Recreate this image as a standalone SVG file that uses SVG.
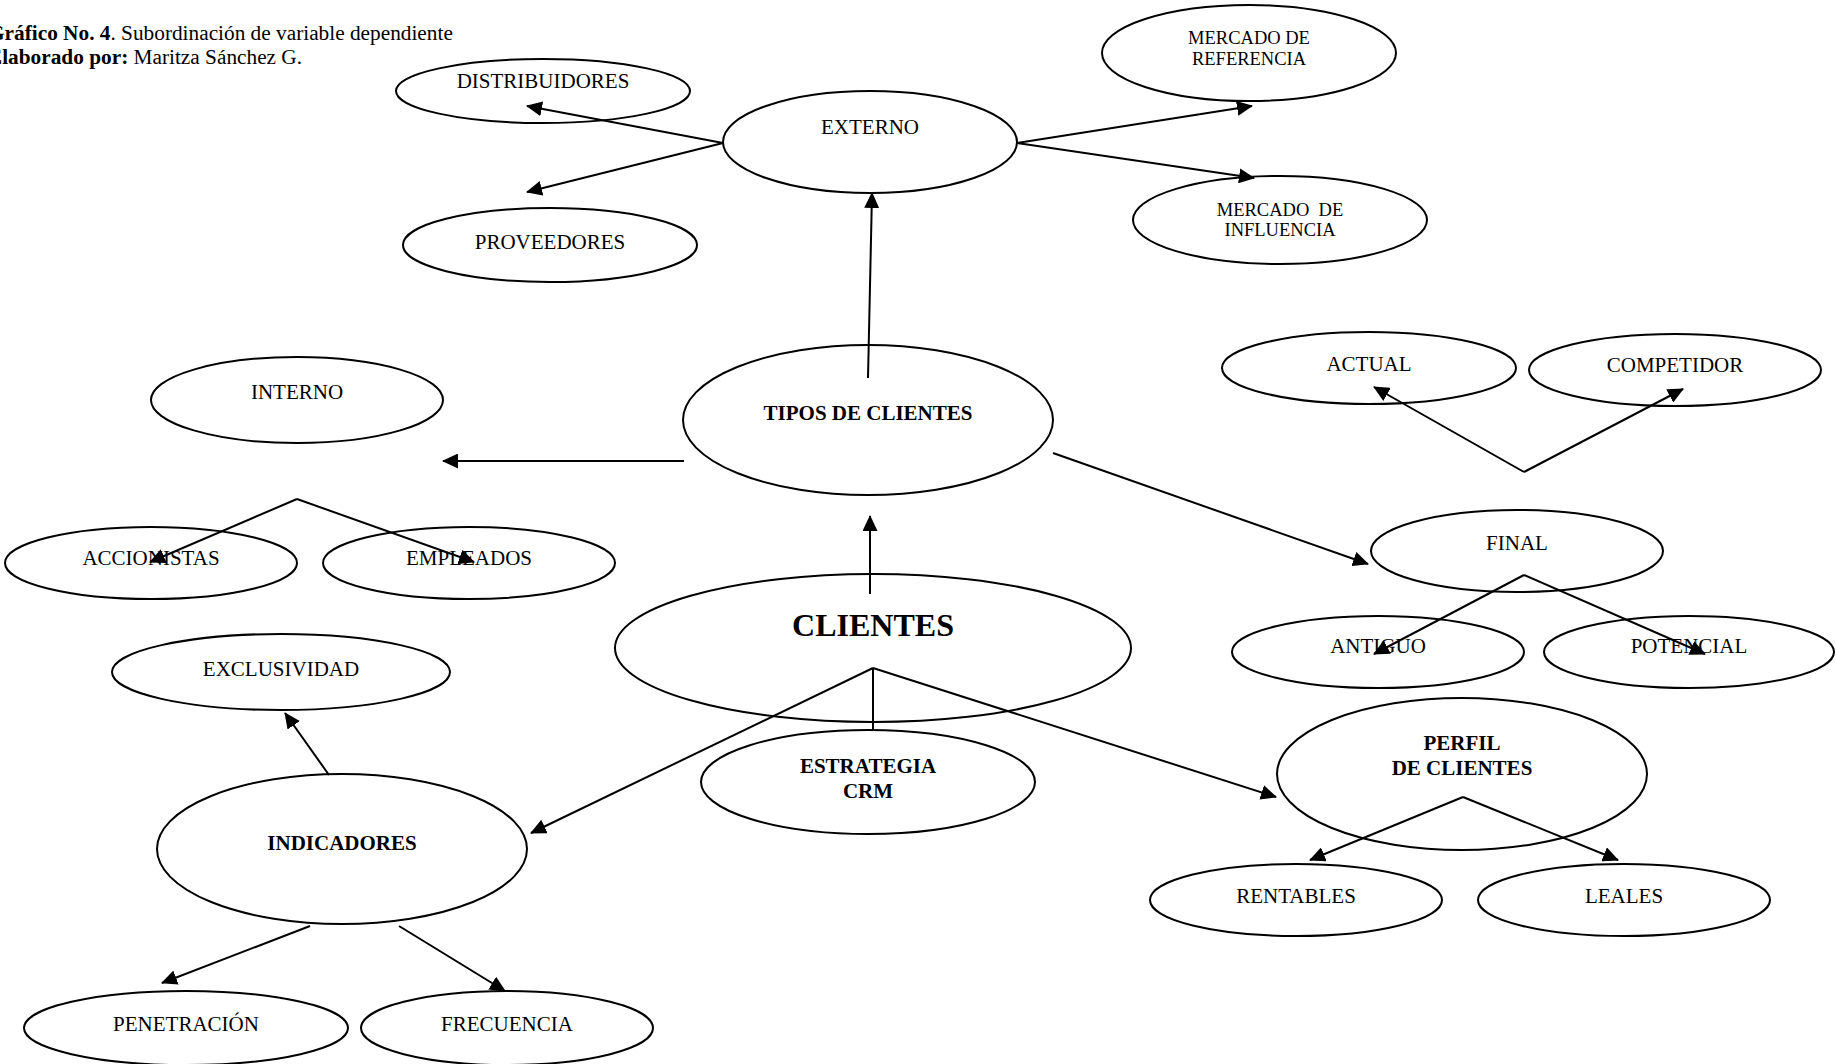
<svg xmlns="http://www.w3.org/2000/svg" width="1836" height="1064" viewBox="0 0 1836 1064">
<style>
.n ellipse{fill:none;stroke:#000;stroke-width:2}
text{font-family:"Liberation Serif","Times New Roman",serif;fill:#000;text-anchor:middle}
.t{font-size:21px}
.s{font-size:18.5px}
.b{font-size:21px;font-weight:bold}
.c line{stroke:#000;stroke-width:2;marker-end:url(#ah)}
.c line.plain{marker-end:none}
</style>
<defs>
<marker id="ah" viewBox="0 0 16 15" refX="15" refY="7.5" markerWidth="16" markerHeight="15" markerUnits="userSpaceOnUse" orient="auto">
<path d="M0,0 L16,7.5 L0,15 z" fill="#000"/>
</marker>
</defs>
<g id="title">
<text x="-12" y="40" style="font-size:21.3px;text-anchor:start"><tspan font-weight="bold">Gráfico No. 4</tspan>. Subordinación de variable dependiente</text>
<text x="-12" y="64" style="font-size:21.3px;text-anchor:start"><tspan font-weight="bold">Elaborado por:</tspan> Maritza Sánchez G.</text>
</g>
<g class="n" id="distribuidores"><ellipse cx="543" cy="91" rx="147" ry="32"/><text class="t" x="543" y="88">DISTRIBUIDORES</text></g>
<g class="n" id="externo"><ellipse cx="870" cy="142" rx="147" ry="51"/><text class="t" x="870" y="134">EXTERNO</text></g>
<g class="n" id="mercado-referencia"><ellipse cx="1249" cy="53" rx="147" ry="48"/><text class="s" x="1249" y="44">MERCADO DE</text><text class="s" x="1249" y="65">REFERENCIA</text></g>
<g class="n" id="mercado-influencia"><ellipse cx="1280" cy="220" rx="147" ry="44"/><text class="s" x="1280" y="216" xml:space="preserve">MERCADO  DE</text><text class="s" x="1280" y="236">INFLUENCIA</text></g>
<g class="n" id="proveedores"><ellipse cx="550" cy="245" rx="147" ry="37"/><text class="t" x="550" y="249">PROVEEDORES</text></g>
<g class="n" id="interno"><ellipse cx="297" cy="400" rx="146" ry="43"/><text class="t" x="297" y="399">INTERNO</text></g>
<g class="n" id="tipos-de-clientes"><ellipse cx="868" cy="420" rx="185" ry="75"/><text class="b" x="868" y="420">TIPOS DE CLIENTES</text></g>
<g class="n" id="clientes"><ellipse cx="873" cy="648" rx="258" ry="74"/><text x="873" y="636" style="font-size:32px;font-weight:bold">CLIENTES</text></g>
<g class="n" id="actual"><ellipse cx="1369" cy="368" rx="147" ry="36"/><text class="t" x="1369" y="371">ACTUAL</text></g>
<g class="n" id="competidor"><ellipse cx="1675" cy="370" rx="146" ry="36"/><text class="t" x="1675" y="372">COMPETIDOR</text></g>
<g class="n" id="final"><ellipse cx="1517" cy="551" rx="146" ry="41"/><text class="t" x="1517" y="550">FINAL</text></g>
<g class="n" id="antiguo"><ellipse cx="1378" cy="652" rx="146" ry="36"/><text class="t" x="1378" y="653">ANTIGUO</text></g>
<g class="n" id="potencial"><ellipse cx="1689" cy="652" rx="145" ry="36"/><text class="t" x="1689" y="653">POTENCIAL</text></g>
<g class="n" id="accionistas"><ellipse cx="151" cy="563" rx="146" ry="36"/><text class="t" x="151" y="565">ACCIONISTAS</text></g>
<g class="n" id="empleados"><ellipse cx="469" cy="563" rx="146" ry="36"/><text class="t" x="469" y="565">EMPLEADOS</text></g>
<g class="n" id="exclusividad"><ellipse cx="281" cy="672" rx="169" ry="38"/><text class="t" x="281" y="676">EXCLUSIVIDAD</text></g>
<g class="n" id="indicadores"><ellipse cx="342" cy="849" rx="185" ry="75"/><text class="b" x="342" y="850">INDICADORES</text></g>
<g class="n" id="penetracion"><ellipse cx="186" cy="1028" rx="162" ry="37"/><text class="t" x="186" y="1031">PENETRACIÓN</text></g>
<g class="n" id="frecuencia"><ellipse cx="507" cy="1028" rx="146" ry="37"/><text class="t" x="507" y="1031">FRECUENCIA</text></g>
<g class="n" id="estrategia-crm"><ellipse cx="868" cy="782" rx="167" ry="52"/><text class="b" x="868" y="773">ESTRATEGIA</text><text class="b" x="868" y="798">CRM</text></g>
<g class="n" id="perfil-de-clientes"><ellipse cx="1462" cy="774" rx="185" ry="76"/><text class="b" x="1462" y="750">PERFIL</text><text class="b" x="1462" y="775">DE CLIENTES</text></g>
<g class="n" id="rentables"><ellipse cx="1296" cy="900" rx="146" ry="36"/><text class="t" x="1296" y="903">RENTABLES</text></g>
<g class="n" id="leales"><ellipse cx="1624" cy="900" rx="146" ry="36"/><text class="t" x="1624" y="903">LEALES</text></g>
<g class="c" id="connectors">
<line x1="723" y1="143" x2="527" y2="106"/>
<line x1="723" y1="143" x2="527" y2="192"/>
<line x1="868" y1="378" x2="872" y2="193"/>
<line x1="1017" y1="143" x2="1252" y2="106"/>
<line x1="1017" y1="143" x2="1254" y2="178"/>
<line x1="684" y1="461" x2="443" y2="461"/>
<line x1="297" y1="499" x2="150" y2="562"/>
<line x1="297" y1="499" x2="474" y2="562"/>
<line x1="1053" y1="453" x2="1368" y2="564"/>
<line x1="1524" y1="472" x2="1374" y2="387"/>
<line x1="1524" y1="472" x2="1683" y2="389"/>
<line x1="1524" y1="575" x2="1374" y2="654"/>
<line x1="1524" y1="575" x2="1705" y2="654"/>
<line x1="870" y1="594" x2="870" y2="516"/>
<line class="plain" x1="873" y1="668" x2="873" y2="730"/>
<line x1="873" y1="668" x2="531" y2="833"/>
<line x1="873" y1="668" x2="1276" y2="797"/>
<line x1="329" y1="775" x2="285" y2="713"/>
<line x1="310" y1="926" x2="162" y2="983"/>
<line x1="399" y1="926" x2="505" y2="991"/>
<line x1="1463" y1="797" x2="1310" y2="860"/>
<line x1="1463" y1="797" x2="1618" y2="860"/>
</g>
</svg>
